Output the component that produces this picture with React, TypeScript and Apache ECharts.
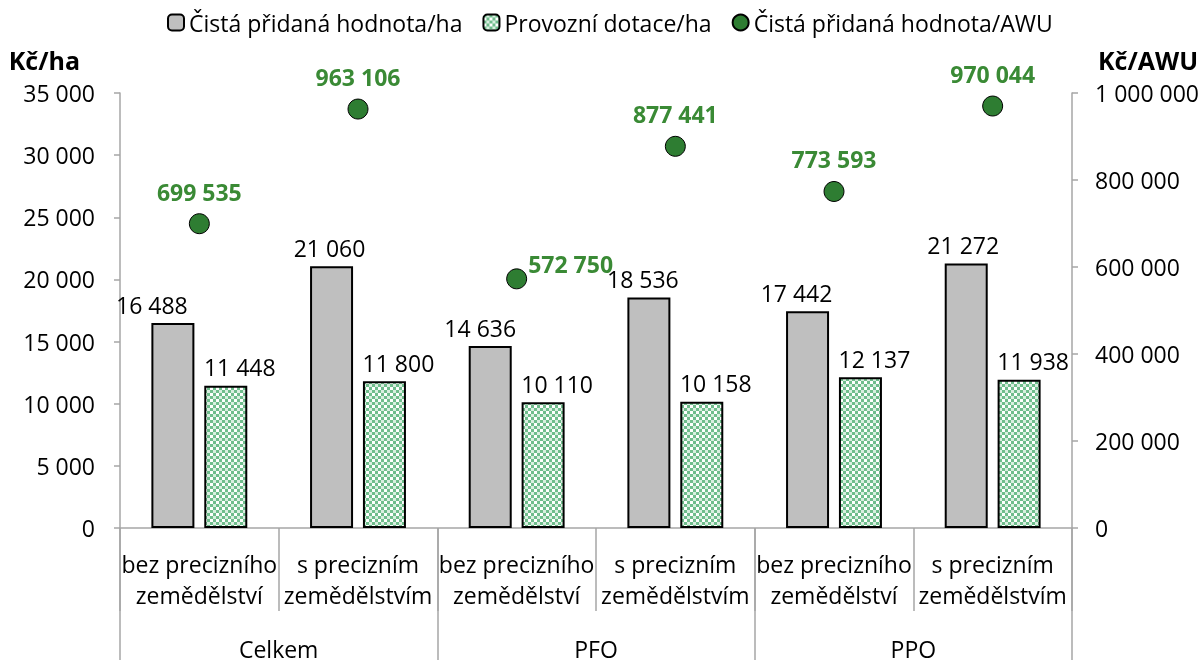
import React, { useEffect, useRef } from "react";
import * as echarts from "echarts";

const categories = [
  "bez precizního\nzemědělství",
  "s precizním\nzemědělstvím",
  "bez precizního\nzemědělství",
  "s precizním\nzemědělstvím",
  "bez precizního\nzemědělství",
  "s precizním\nzemědělstvím",
];
const groups = ["Celkem", "PFO", "PPO"];
const cpvHa = [16488, 21060, 14636, 18536, 17442, 21272];
const dotaceHa = [11448, 11800, 10110, 10158, 12137, 11938];
const cpvAwu = [699535, 963106, 572750, 877441, 773593, 970044];
const seriesNames = ["Čistá přidaná hodnota/ha", "Provozní dotace/ha", "Čistá přidaná hodnota/AWU"];

// label nudges (style only)
const grayLabelDx = [-21, -2, -10, -6, -11, -3];

const FONT = "Open Sans";
const fmt = (v: number) => String(v).replace(/\B(?=(\d{3})+(?!\d))/g, " ");

function makePattern(): string {
  const c = document.createElement("canvas");
  c.width = 6;
  c.height = 6;
  const ctx = c.getContext("2d")!;
  ctx.fillStyle = "#ffffff";
  ctx.fillRect(0, 0, 6, 6);
  ctx.fillStyle = "#6fbd8c";
  ctx.fillRect(0, 0, 3, 3);
  ctx.fillRect(3, 3, 3, 3);
  ctx.fillStyle = "#d9efe0";
  ctx.fillRect(3, 0, 3, 3);
  return c.toDataURL();
}

export default function App() {
  const ref = useRef<HTMLDivElement>(null);
  useEffect(() => {
    if (!ref.current) return;
    const chart = echarts.init(ref.current, undefined, { renderer: "svg" });
    const pattern = { image: makePattern(), repeat: "repeat" } as any;
    const axisGray = "#a6a6a6";
    const txt = { fontFamily: FONT, fontSize: 23, color: "#000" };
    chart.setOption({
      animation: false,
      textStyle: { fontFamily: FONT },
      legend: {
        top: 6,
        left: 162,
        itemWidth: 16,
        itemHeight: 16,
        itemGap: 20,
        textStyle: { ...txt, fontSize: 23 },
        data: seriesNames,
      },
      grid: { left: 120, right: 132, top: 93, bottom: 132, containLabel: false },
      xAxis: [
        {
          type: "category",
          data: categories,
          position: "bottom",
          axisLine: { show: true, lineStyle: { color: axisGray, width: 1.5 } },
          axisTick: { show: true, interval: 0, length: 83, lineStyle: { color: axisGray, width: 1.5 } },
          axisLabel: { ...txt, interval: 0, margin: 20, lineHeight: 31 },
        },
        {
          type: "category",
          data: groups,
          position: "bottom",
          offset: 0,
          axisLine: { show: false },
          axisTick: { show: true, interval: 0, length: 132, lineStyle: { color: axisGray, width: 1.5 } },
          axisLabel: { ...txt, interval: 0, margin: 106, lineHeight: 30 },
        },
      ],
      yAxis: [
        {
          type: "value",
          min: 0,
          max: 35000,
          interval: 5000,
          name: "Kč/ha",
          nameLocation: "end",
          nameGap: 21,
          nameTextStyle: { ...txt, fontSize: 25, fontWeight: "bold", align: "right", padding: [0, 40, 0, 0] },
          splitLine: { show: false },
          axisLine: { show: true, lineStyle: { color: axisGray, width: 1.5 } },
          axisTick: { show: true, length: 6, lineStyle: { color: axisGray, width: 1.5 } },
          axisLabel: { ...txt, margin: 25, formatter: (v: number) => fmt(v) },
        },
        {
          type: "value",
          min: 0,
          max: 1000000,
          interval: 200000,
          position: "right",
          name: "Kč/AWU",
          nameLocation: "end",
          nameGap: 21,
          nameTextStyle: { ...txt, fontSize: 25, fontWeight: "bold", align: "left", padding: [0, 0, 0, 26] },
          splitLine: { show: false },
          axisLine: { show: true, lineStyle: { color: axisGray, width: 1.5 } },
          axisTick: { show: true, length: 6, lineStyle: { color: axisGray, width: 1.5 } },
          axisLabel: { ...txt, margin: 23, formatter: (v: number) => fmt(v) },
        },
      ],
      series: [
        {
          name: seriesNames[0],
          type: "bar",
          xAxisIndex: 0,
          yAxisIndex: 0,
          barWidth: 43,
          barGap: "23%",
          itemStyle: { color: "#bfbfbf", borderColor: "#000", borderWidth: 2 },
          label: { show: true, position: "top", distance: 7, ...txt, formatter: (p: any) => fmt(p.value) },
          data: cpvHa.map((v, i) => ({ value: v, label: { offset: [grayLabelDx[i], 0] } })),
        },
        {
          name: seriesNames[1],
          type: "bar",
          xAxisIndex: 0,
          yAxisIndex: 0,
          barWidth: 43,
          barGap: "23%",
          itemStyle: { color: pattern, borderColor: "#000", borderWidth: 2 },
          label: { show: true, position: "top", distance: 7, offset: [14, 0], ...txt, formatter: (p: any) => fmt(p.value) },
          data: dotaceHa,
        },
        {
          name: seriesNames[2],
          type: "scatter",
          xAxisIndex: 0,
          yAxisIndex: 1,
          symbol: "circle",
          symbolSize: 20,
          itemStyle: { color: "#2e7d32", borderColor: "#000", borderWidth: 1, opacity: 1 },
          label: {
            show: true,
            position: "top",
            distance: 10,
            fontFamily: FONT,
            fontSize: 23,
            fontWeight: "bold",
            color: "#3a8a35",
            formatter: (p: any) => fmt(p.value),
          },
          data: cpvAwu.map((v, i) =>
            i === 2 ? { value: v, label: { position: "right", distance: 1, offset: [0, -15] } } : { value: v }
          ),
        },
      ],
    });
    return () => chart.dispose();
  }, []);
  return <div ref={ref} style={{ position: "fixed", left: 0, top: 0, width: 1204, height: 664 }} />;
}
